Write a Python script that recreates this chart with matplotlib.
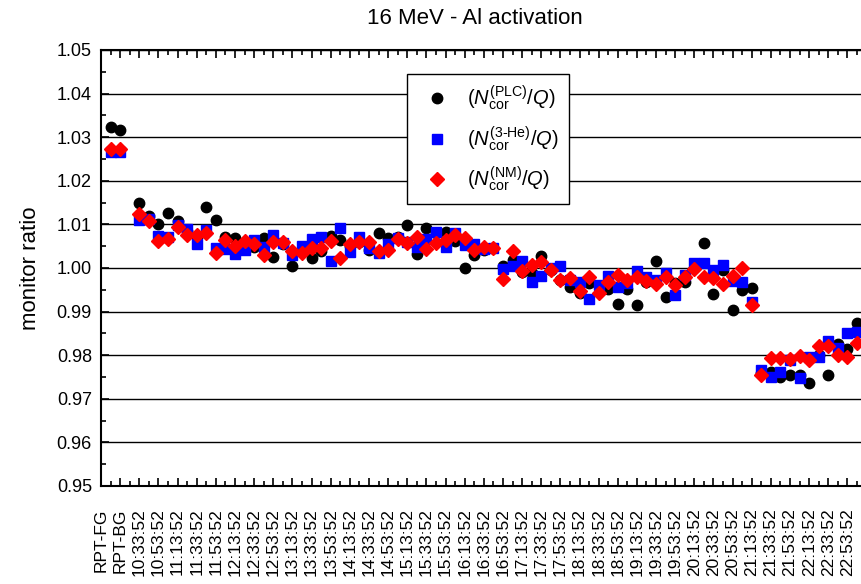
import matplotlib
matplotlib.use("Agg")
import matplotlib.pyplot as plt
import numpy as np
from matplotlib.ticker import MultipleLocator, FixedLocator

plt.rcParams["font.family"] = ["Liberation Sans", "DejaVu Sans"]
plt.rcParams["mathtext.fontset"] = "custom"
plt.rcParams["mathtext.rm"] = "Liberation Sans"
plt.rcParams["mathtext.it"] = "Liberation Sans:italic"
plt.rcParams["mathtext.bf"] = "Liberation Sans:bold"

# --- tick labels (every second category position) ---
xlabels = ["RPT-FG", "RPT-BG",
           "10:33:52", "10:53:52", "11:13:52", "11:33:52", "11:53:52",
           "12:13:52", "12:33:52", "12:53:52", "13:13:52", "13:33:52",
           "13:53:52", "14:13:52", "14:33:52", "14:53:52", "15:13:52",
           "15:33:52", "15:53:52", "16:13:52", "16:33:52", "16:53:52",
           "17:13:52", "17:33:52", "17:53:52", "18:13:52", "18:33:52",
           "18:53:52", "19:13:52", "19:33:52", "19:53:52", "20:13:52",
           "20:33:52", "20:53:52", "21:13:52", "21:33:52", "21:53:52",
           "22:13:52", "22:33:52", "22:53:52"]

# --- RPT reference points ---
rpt_plc = [1.0324, 1.0316]
rpt_he3 = [1.0267, 1.0266]
rpt_nm = [1.0272, 1.0272]

# --- time series, 10 min steps starting 10:33:52 ---
plc = [1.0150, 1.0120, 1.0101, 1.0127, 1.0108, 1.0085, 1.0070, 1.0141, 1.0110, 1.0070,
       1.0068, 1.0050, 1.0049, 1.0068, 1.0026, 1.0055, 1.0005, 1.0040, 1.0024, 1.0040,
       1.0073, 1.0064, 1.0050, 1.0060, 1.0041, 1.0081, 1.0068, 1.0070, 1.0099, 1.0032,
       1.0091, 1.0080, 1.0083, 1.0062, 0.9999, 1.0030, 1.0041, 1.0045, 1.0004, 1.0018,
       0.9990, 0.9989, 1.0028, 0.9996, 0.9972, 0.9956, 0.9943, 0.9966, 0.9958, 0.9952,
       0.9917, 0.9952, 0.9914, 0.9969, 1.0015, 0.9933, 0.9966, 0.9969, 1.0000, 1.0057,
       0.9940, 0.9996, 0.9903, 0.9949, 0.9953, 0.9760, 0.9762, 0.9751, 0.9755, 0.9755,
       0.9737, 0.9800, 0.9755, 0.9825, 0.9814, 0.9873]
he3 = [1.0110, 1.0112, 1.0073, 1.0070, 1.0099, 1.0089, 1.0054, 1.0087, 1.0047, 1.0043,
       1.0032, 1.0041, 1.0064, 1.0049, 1.0076, 1.0057, 1.0030, 1.0051, 1.0066, 1.0072,
       1.0016, 1.0092, 1.0037, 1.0072, 1.0045, 1.0035, 1.0055, 1.0068, 1.0060, 1.0049,
       1.0066, 1.0083, 1.0049, 1.0080, 1.0053, 1.0054, 1.0044, 1.0047, 0.9998, 1.0004,
       1.0015, 0.9967, 0.9982, 1.0000, 1.0005, 0.9973, 0.9969, 0.9929, 0.9960, 0.9982,
       0.9956, 0.9966, 0.9992, 0.9979, 0.9972, 0.9989, 0.9939, 0.9985, 1.0011, 1.0011,
       0.9995, 1.0008, 0.9971, 0.9969, 0.9922, 0.9766, 0.9751, 0.9761, 0.9789, 0.9747,
       0.9795, 0.9797, 0.9833, 0.9816, 0.9850, 0.9854]
nm = [1.0125, 1.0108, 1.0063, 1.0067, 1.0093, 1.0076, 1.0076, 1.0080, 1.0034, 1.0064,
      1.0050, 1.0062, 1.0054, 1.0030, 1.0060, 1.0060, 1.0040, 1.0034, 1.0045, 1.0047,
      1.0063, 1.0024, 1.0054, 1.0059, 1.0059, 1.0039, 1.0041, 1.0066, 1.0057, 1.0070,
      1.0043, 1.0057, 1.0064, 1.0076, 1.0068, 1.0041, 1.0049, 1.0045, 0.9975, 1.0040,
      0.9992, 1.0008, 1.0014, 0.9995, 0.9973, 0.9977, 0.9947, 0.9979, 0.9943, 0.9968,
      0.9985, 0.9973, 0.9979, 0.9971, 0.9963, 0.9979, 0.9962, 0.9979, 0.9998, 0.9979,
      0.9977, 0.9963, 0.9982, 1.0000, 0.9914, 0.9755, 0.9793, 0.9793, 0.9791, 0.9798,
      0.9789, 0.9822, 0.9822, 0.9801, 0.9795, 0.9829]

x_rpt = np.array([1, 2])
x_t = 4 + np.arange(len(plc))

fig = plt.figure(figsize=(8.61, 5.84), dpi=100)
ax = fig.add_axes([101/861, 1-486/584, 765.6/861, 436/584])

ax.plot(np.r_[x_rpt, x_t], rpt_plc + plc, ls="none", marker="o", ms=7.5,
        color="black", label=r"$(N_{\mathrm{cor}}^{\mathrm{(PLC)}}/Q)$", zorder=3)
ax.plot(np.r_[x_rpt, x_t], rpt_he3 + he3, ls="none", marker="s", ms=6.5,
        color="#0000ff", label=r"$(N_{\mathrm{cor}}^{\mathrm{(3\text{-}He)}}/Q)$", zorder=4)
ax.plot(np.r_[x_rpt, x_t], rpt_nm + nm, ls="none", marker="D", ms=6.8,
        color="#ff0000", label=r"$(N_{\mathrm{cor}}^{\mathrm{(NM)}}/Q)$", zorder=5)

ax.set_xlim(0, 80)
ax.set_ylim(0.95, 1.05)
ax.xaxis.set_major_locator(FixedLocator(np.arange(0, 2*len(xlabels), 2)))
ax.xaxis.set_minor_locator(FixedLocator(np.arange(1, 2*len(xlabels), 2)))
ax.set_xticklabels(xlabels, rotation=90, fontsize=12.5)
ax.yaxis.set_major_locator(MultipleLocator(0.01))
ax.yaxis.set_minor_locator(MultipleLocator(0.005))
ax.yaxis.set_major_formatter(matplotlib.ticker.FormatStrFormatter("%.2f"))
ax.tick_params(axis="y", labelsize=13, pad=6.5)
ax.tick_params(axis="x", pad=16)
ax.tick_params(which="major", direction="in", length=6, width=1.2, top=True, right=False)
ax.tick_params(which="minor", direction="in", length=3.5, width=1.2, top=True, right=False)
ax.grid(axis="y", which="major", color="black", lw=1)
for s in ax.spines.values():
    s.set_linewidth(1.5)
ax.set_axisbelow(True)

fig.text(30/861, 1-268/584, "monitor ratio", rotation=90, ha="center", va="center",
         fontsize=16)
fig.text(475/861, 1-19/584, "16 MeV - Al activation", ha="center", va="center", fontsize=16)

leg = ax.legend(loc="upper left", bbox_to_anchor=((407-101)/765.6, (486-74)/436),
                fontsize=14.5, frameon=True, fancybox=False, edgecolor="black",
                framealpha=1, handletextpad=0.5, borderpad=0.5, labelspacing=0.55,
                handlelength=2.0, borderaxespad=0)
leg.get_frame().set_linewidth(1.0)

fig.savefig("out.png", dpi=100, facecolor="white")
